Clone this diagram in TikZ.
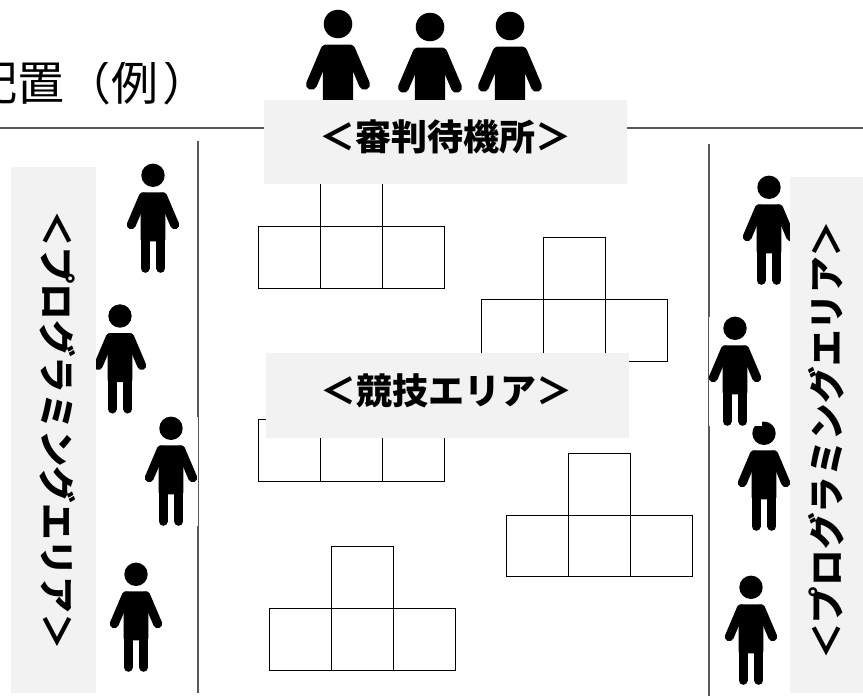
\documentclass[tikz,border=0pt]{standalone}
\usepackage{fontspec}
\setmainfont{Noto Sans CJK JP}
\newfontfamily\titlefont[Kerning=Off]{Noto Sans CJK JP}
\definecolor{panel}{HTML}{F2F2F2}
\definecolor{rule}{HTML}{595959}
\tikzset{
  panelbox/.style={fill=panel,draw=none,inner sep=0pt,outer sep=0pt},
  boxlabel/.style={font=\fontsize{36}{40}\selectfont\bfseries,text=black,inner sep=0pt},
  sidelabel/.style={font=\fontsize{36.6}{40}\selectfont\bfseries,text=black,inner sep=0pt},
  rulestroke/.style={draw=rule,line width=2pt},
  cell/.style={draw=black,line width=1pt},
  pics/person/.style={code={
    \fill[white] (-26.5*#1,-11.7*#1) rectangle (26.5*#1,97.6*#1);
    \begin{scope}[scale=#1]
      \fill[black] (0,0) circle (11.7);
      \fill[black,rounded corners=2pt] (-12.4,17) -- (12.4,17) -- (14.5,21) -- (12.4,35) -- (12.4,66) -- (-12.4,66) -- (-12.4,35) -- (-14.5,21) -- cycle;
      \draw[black,line width=#1*9pt,line cap=round] (-9.8,21.5) -- (-21.7,49.5);
      \draw[black,line width=#1*9pt,line cap=round] (9.8,21.5) -- (21.7,49.5);
      \draw[black,line width=#1*9pt,line cap=round] (-7.9,60) -- (-7.9,93);
      \draw[black,line width=#1*9pt,line cap=round] (7.9,60) -- (7.9,93);
    \end{scope}
  }},
  pics/tee/.style={code={
    \draw[cell] (62,-62) rectangle (124,0);
    \draw[cell] (0,0) rectangle (62,61.5);
    \draw[cell] (62,0) rectangle (124,61.5);
    \draw[cell] (124,0) rectangle (186,61.5);
  }}
}
\begin{document}
\begin{tikzpicture}[x=1pt,y=-1pt]
\useasboundingbox (0,0) rectangle (863,696);
\fill[white] (0,0) rectangle (863,696);
% title, cut off by its frame
\begin{scope}
  \clip (0,62) rectangle (200,105);
  \node[anchor=base west,inner sep=0pt,font=\titlefont\fontsize{47}{50}\selectfont] (title) at (-29.5,100) {配置（例\kern3.5pt）};
\end{scope}
% rules
\coordinate (ruleL) at (0,127.5);
\coordinate (ruleR) at (863,127.5);
\draw[rulestroke] (ruleL) -- (ruleR);
\coordinate (wallLt) at (197.5,141);
\coordinate (wallLb) at (197.5,693);
\coordinate (wallRt) at (708.5,144);
\coordinate (wallRb) at (708.5,696);
\draw[rulestroke] (wallLt) -- (wallLb);
\draw[rulestroke] (wallRt) -- (wallRb);
% tables
\pic at (258.3,226.7) {tee};
\pic at (481,299.8) {tee};
\pic at (258.3,419.6) {tee};
\pic at (506,515) {tee};
\pic at (269.3,608.5) {tee};
% people
\pic at (338,24) {person=1.22};
\pic at (430,27) {person=1.22};
\pic at (510,26) {person=1.22};
\pic at (153,175.3) {person=1};
\pic at (120,316) {person=1};
\pic at (171,428.3) {person=1};
\pic at (136,574.3) {person=1};
\pic at (769,187.3) {person=1};
\pic at (764,433.3) {person=1};
\pic at (735,328.3) {person=1};
\pic at (751,587.3) {person=1};
% panels
\fill[panelbox] (11,167) rectangle (96,693);
\fill[panelbox] (790,177) rectangle (863,693);
\fill[panelbox] (264,100) rectangle (627,184);
\fill[panelbox] (266,353) rectangle (629,438);
\node[boxlabel] (wait) at (445,137) {＜審判待機所＞};
\node[boxlabel] (arena) at (446.5,391) {＜競技エリア＞};
\node[sidelabel,rotate=-90] (progL) at (58,430) {＜プログラミングエリア＞};
\node[sidelabel,rotate=90] (progR) at (826,440) {＜プログラミングエリア＞};
\end{tikzpicture}
\end{document}
